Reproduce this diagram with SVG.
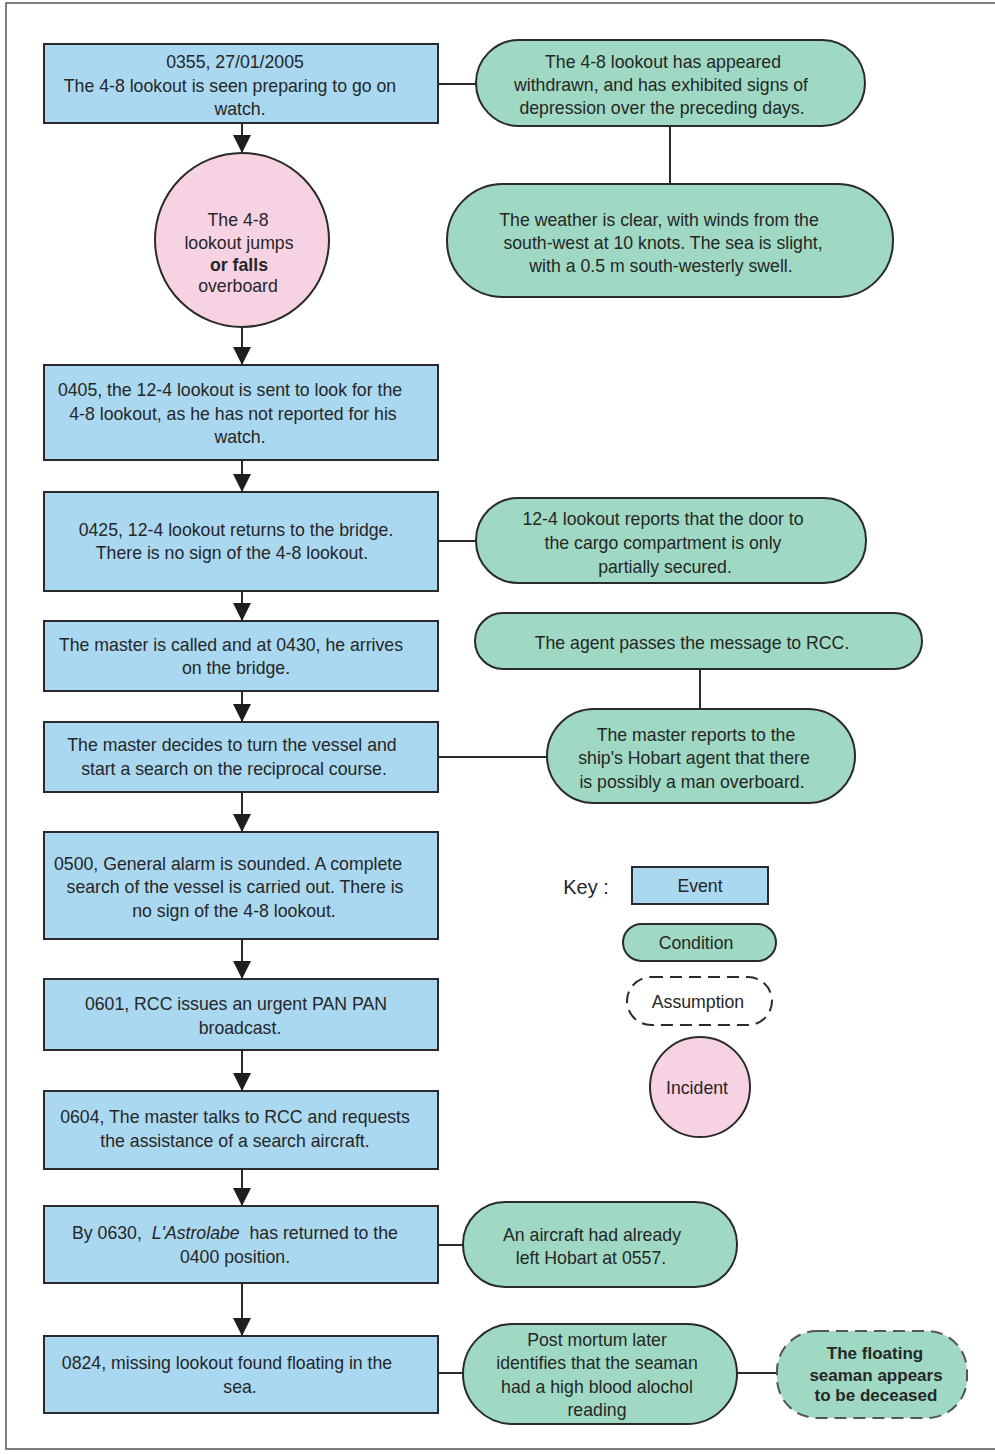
<svg xmlns="http://www.w3.org/2000/svg" width="995" height="1455" viewBox="0 0 995 1455">
<defs>
<style>
text{font-family:"Liberation Sans",Arial,sans-serif;font-size:17.7px;fill:#262626;text-anchor:middle;}
.ev{fill:#aad8f1;stroke:#2a2a2a;stroke-width:2;}
.co{fill:#9fd9c3;stroke:#2a2a2a;stroke-width:2;}
.inc{fill:#f6d2e3;stroke:#2a2a2a;stroke-width:2;}
.as{fill:#ffffff;stroke:#2a2a2a;stroke-width:2;stroke-dasharray:12 7;}
.asg{fill:#9fd9c3;stroke:#555;stroke-width:2;stroke-dasharray:12 7;}
.ln{stroke:#2a2a2a;stroke-width:2;fill:none;}
.b{font-weight:bold;}
</style>
<marker id="ah" markerWidth="18" markerHeight="18" refX="18" refY="9" orient="auto" markerUnits="userSpaceOnUse">
<path d="M0,0 L18,9 L0,18 z" fill="#1e1e1e"/>
</marker>
</defs>
<rect x="0" y="0" width="995" height="1455" fill="#ffffff"/>
<rect x="6" y="3" width="1000" height="1446" fill="none" stroke="#555" stroke-width="1.5"/>

<g id="connectors">
<line class="ln" x1="242" y1="123" x2="242" y2="153" marker-end="url(#ah)"/>
<line class="ln" x1="242" y1="327" x2="242" y2="365" marker-end="url(#ah)"/>
<line class="ln" x1="242" y1="460" x2="242" y2="492" marker-end="url(#ah)"/>
<line class="ln" x1="242" y1="591" x2="242" y2="621" marker-end="url(#ah)"/>
<line class="ln" x1="242" y1="691" x2="242" y2="722" marker-end="url(#ah)"/>
<line class="ln" x1="242" y1="792" x2="242" y2="832" marker-end="url(#ah)"/>
<line class="ln" x1="242" y1="939" x2="242" y2="979" marker-end="url(#ah)"/>
<line class="ln" x1="242" y1="1050" x2="242" y2="1091" marker-end="url(#ah)"/>
<line class="ln" x1="242" y1="1169" x2="242" y2="1206" marker-end="url(#ah)"/>
<line class="ln" x1="242" y1="1283" x2="242" y2="1336" marker-end="url(#ah)"/>
<line class="ln" x1="438" y1="84" x2="476" y2="84"/>
<line class="ln" x1="670" y1="126" x2="670" y2="184"/>
<line class="ln" x1="438" y1="541" x2="476" y2="541"/>
<line class="ln" x1="700" y1="669" x2="700" y2="709"/>
<line class="ln" x1="438" y1="757" x2="547" y2="757"/>
<line class="ln" x1="438" y1="1245" x2="463" y2="1245"/>
<line class="ln" x1="438" y1="1373" x2="463" y2="1373"/>
<line class="ln" x1="737" y1="1373" x2="777" y2="1373"/>
</g>

<g id="e1"><rect class="ev" x="44" y="44" width="394" height="79"/>
<text x="235" y="68">0355, 27/01/2005</text>
<text x="230" y="92">The 4-8 lookout is seen preparing to go on</text>
<text x="240" y="115">watch.</text></g>

<g id="i1"><circle class="inc" cx="242" cy="240" r="87"/>
<text x="238" y="226">The 4-8</text>
<text x="239" y="249">lookout jumps</text>
<text x="239" y="271" class="b">or falls</text>
<text x="238" y="292">overboard</text></g>

<g id="e2"><rect class="ev" x="44" y="365" width="394" height="95"/>
<text x="230" y="396">0405, the 12-4 lookout is sent to look for the</text>
<text x="233" y="420">4-8 lookout, as he has not reported for his</text>
<text x="240" y="443">watch.</text></g>

<g id="e3"><rect class="ev" x="44" y="492" width="394" height="99"/>
<text x="236" y="536">0425, 12-4 lookout returns to the bridge.</text>
<text x="232" y="559">There is no sign of the 4-8 lookout.</text></g>

<g id="e4"><rect class="ev" x="44" y="621" width="394" height="70"/>
<text x="231" y="651">The master is called and at 0430, he arrives</text>
<text x="236" y="674">on the bridge.</text></g>

<g id="e5"><rect class="ev" x="44" y="722" width="394" height="70"/>
<text x="232" y="751">The master decides to turn the vessel and</text>
<text x="234" y="775">start a search on the reciprocal course.</text></g>

<g id="e6"><rect class="ev" x="44" y="832" width="394" height="107"/>
<text x="228" y="870">0500, General alarm is sounded. A complete</text>
<text x="235" y="893">search of the vessel is carried out. There is</text>
<text x="234" y="917">no sign of the 4-8 lookout.</text></g>

<g id="e7"><rect class="ev" x="44" y="979" width="394" height="71"/>
<text x="236" y="1010">0601, RCC issues an urgent PAN PAN</text>
<text x="240" y="1034">broadcast.</text></g>

<g id="e8"><rect class="ev" x="44" y="1091" width="394" height="78"/>
<text x="235" y="1123">0604, The master talks to RCC and requests</text>
<text x="235" y="1147">the assistance of a search aircraft.</text></g>

<g id="e9"><rect class="ev" x="44" y="1206" width="394" height="77"/>
<text x="235" y="1239" xml:space="preserve">By 0630,  <tspan font-style="italic">L'Astrolabe</tspan>  has returned to the</text>
<text x="235" y="1263">0400 position.</text></g>

<g id="e10"><rect class="ev" x="44" y="1336" width="394" height="77"/>
<text x="227" y="1369">0824, missing lookout found floating in the</text>
<text x="240" y="1393">sea.</text></g>

<g id="c1"><rect class="co" x="476" y="40" width="389" height="86" rx="43"/>
<text x="663" y="68">The 4-8 lookout has appeared</text>
<text x="661" y="91">withdrawn, and has exhibited signs of</text>
<text x="662" y="114">depression over the preceding days.</text></g>

<g id="c2"><rect class="co" x="447" y="184" width="446" height="113" rx="56"/>
<text x="659" y="226">The weather is clear, with winds from the</text>
<text x="663" y="249">south-west at 10 knots. The sea is slight,</text>
<text x="661" y="272">with a 0.5 m south-westerly swell.</text></g>

<g id="c3"><rect class="co" x="476" y="498" width="390" height="85" rx="42"/>
<text x="663" y="525">12-4 lookout reports that the door to</text>
<text x="663" y="549">the cargo compartment is only</text>
<text x="665" y="573">partially secured.</text></g>

<g id="c4"><rect class="co" x="475" y="613" width="447" height="56" rx="28"/>
<text x="692" y="649">The agent passes the message to RCC.</text></g>

<g id="c5"><rect class="co" x="547" y="709" width="308" height="94" rx="47"/>
<text x="696" y="741">The master reports to the</text>
<text x="694" y="764">ship's Hobart agent that there</text>
<text x="692" y="788">is possibly a man overboard.</text></g>

<g id="c6"><rect class="co" x="463" y="1202" width="274" height="85" rx="42"/>
<text x="592" y="1241">An aircraft had already</text>
<text x="591" y="1264">left Hobart at 0557.</text></g>

<g id="c7"><rect class="co" x="463" y="1324" width="274" height="100" rx="50"/>
<text x="597" y="1346">Post mortum later</text>
<text x="597" y="1369">identifies that the seaman</text>
<text x="597" y="1393">had a high blood alochol</text>
<text x="597" y="1416">reading</text></g>

<g id="a1"><rect class="asg" x="777" y="1331" width="190" height="87" rx="40"/>
<text x="875" y="1359" class="b" style="font-size:17px">The floating</text>
<text x="876" y="1381" class="b" style="font-size:17px">seaman appears</text>
<text x="876" y="1401" class="b" style="font-size:17px">to be deceased</text></g>

<g id="key">
<text x="586" y="894" style="font-size:20px">Key :</text>
<rect class="ev" x="632" y="867" width="136" height="37"/>
<text x="700" y="892">Event</text>
<rect class="co" x="623" y="924" width="153" height="37" rx="18.5"/>
<text x="696" y="949">Condition</text>
<rect class="as" x="627" y="977" width="145" height="48" rx="24"/>
<text x="698" y="1008">Assumption</text>
<circle class="inc" cx="700" cy="1087" r="50"/>
<text x="697" y="1094">Incident</text>
</g>
</svg>
